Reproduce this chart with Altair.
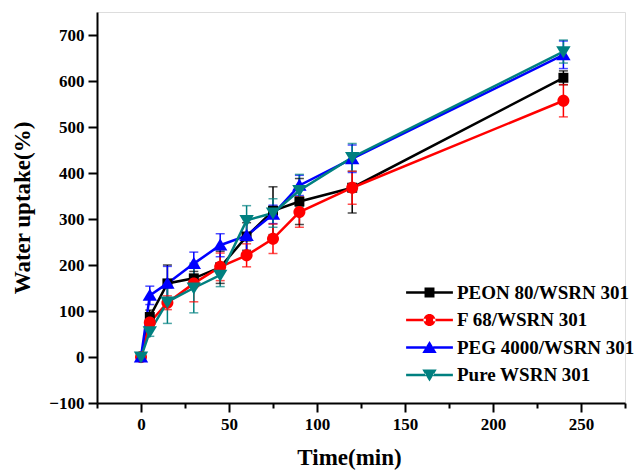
import altair as alt
import pandas as pd

# ---- data ----
time_min = [0, 5, 15, 30, 45, 60, 75, 90, 120, 240]
series_names = ["PEON 80/WSRN 301", "F 68/WSRN 301", "PEG 4000/WSRN 301", "Pure WSRN 301"]
peon = [0, 87, 160, 171, 195, 262, 318, 338, 368, 607]
f68 = [0, 75, 118, 160, 196, 221, 257, 315, 368, 557]
peg = [0, 134, 160, 203, 243, 264, 310, 373, 431, 657]
pure = [0, 55, 120, 150, 178, 297, 313, 362, 434, 664]
peon_err = [0, 15, 40, 15, 35, 30, 52, 50, 55, 15]
f68_err = [0, 10, 15, 40, 30, 25, 32, 33, 36, 35]
peg_err = [0, 20, 37, 25, 25, 40, 20, 22, 30, 30]
pure_err = [0, 10, 47, 54, 25, 32, 31, 35, 30, 25]

colors = ["#000000", "#FF0000", "#0000FF", "#008080"]

# marker shapes (unit box)
sq = "M-0.83,-0.83H0.83V0.83H-0.83Z"
ci = "M-1,0A1,1 0 1,0 1,0A1,1 0 1,0 -1,0Z"
tu = "M0,-1.1L1.2,0.9H-1.2Z"
td = "M0,1.1L1.2,-0.9H-1.2Z"
marker_paths = [sq, ci, tu, td]
seg = "M-3.9,-0.21H-0.6V0.21H-3.9Z M0.6,-0.21H3.9V0.21H0.6Z "
legend_paths = [seg + p for p in marker_paths]

rows = []
for name, vals, errs in zip(series_names, [peon, f68, peg, pure], [peon_err, f68_err, peg_err, pure_err]):
    for t, v, e in zip(time_min, vals, errs):
        rows.append({"t": t, "v": v, "lo": v - e, "hi": v + e, "s": name})
df = pd.DataFrame(rows)

FONT = "Liberation Serif"

x_scale = alt.Scale(domain=[-25, 275], nice=False, zero=False)
y_scale = alt.Scale(domain=[-100, 750], nice=False, zero=False)

x_axis = alt.Axis(
    title="Time(min)",
    values=list(range(-25, 276, 25)),
    labelExpr="(datum.value % 50 === 0 && datum.value >= 0) ? datum.label : ''",
    tickSize={"condition": {"test": "datum.value % 50 === 0", "value": 9}, "value": 5},
    tickWidth=2, tickColor="black", domainWidth=2, domainColor="black",
    labelFont=FONT, labelFontWeight="bold", labelFontSize=17, labelColor="black",
    labelPadding=4, labelFlush=False, labelOverlap=False,
    titleFont=FONT, titleFontWeight="bold", titleFontSize=23, titleColor="black",
    titlePadding=14, titleX=252, titleAlign="center", grid=False,
)
y_axis = alt.Axis(
    title="Water uptake(%)",
    values=list(range(-100, 751, 50)),
    labelExpr="(datum.value % 100 === 0 && datum.value <= 700) ? datum.label : ''",
    tickSize={"condition": {"test": "datum.value % 100 === 0", "value": 9}, "value": 5},
    tickWidth=2, tickColor="black", domainWidth=2, domainColor="black",
    labelFont=FONT, labelFontWeight="bold", labelFontSize=17, labelColor="black",
    labelPadding=4, labelFlush=False, labelOverlap=False,
    titleFont=FONT, titleFontWeight="bold", titleFontSize=23, titleColor="black",
    titlePadding=14, grid=False,
)

color_scale = alt.Scale(domain=series_names, range=colors)

base = alt.Chart(df)

err_rule = base.mark_rule(strokeWidth=1.5).encode(
    x=alt.X("t:Q", scale=x_scale, axis=x_axis),
    y=alt.Y("lo:Q", scale=y_scale, axis=y_axis),
    y2="hi:Q",
    color=alt.Color("s:N", scale=color_scale, legend=None),
)
err_lo = base.mark_tick(orient="horizontal", size=9, thickness=1.5).encode(
    x="t:Q", y="lo:Q", color=alt.Color("s:N", scale=color_scale, legend=None)
)
err_hi = base.mark_tick(orient="horizontal", size=9, thickness=1.5).encode(
    x="t:Q", y="hi:Q", color=alt.Color("s:N", scale=color_scale, legend=None)
)
lines = base.mark_line(strokeWidth=2.5).encode(
    x="t:Q", y="v:Q",
    color=alt.Color("s:N", scale=color_scale, legend=None),
    detail="s:N",
)
points = base.mark_point(filled=True, size=144, opacity=1, strokeWidth=0).encode(
    x="t:Q", y="v:Q",
    color=alt.Color("s:N", scale=color_scale, legend=None),
    shape=alt.Shape("s:N", scale=alt.Scale(domain=series_names, range=marker_paths), legend=None),
)

leg = alt.Legend(
    title=None, orient="none", legendX=323, legendY=271, padding=0,
    symbolSize=144, symbolStrokeWidth=0, symbolOpacity=1,
    labelOffset=18, rowPadding=7.5,
    labelFont=FONT, labelFontWeight="bold", labelFontSize=19, labelColor="black",
    labelLimit=400,
)
legend_layer = base.mark_point(filled=True, size=144, opacity=0).encode(
    x="t:Q", y="v:Q",
    color=alt.Color("s:N", scale=color_scale, legend=leg),
    shape=alt.Shape("s:N", scale=alt.Scale(domain=series_names, range=legend_paths), legend=leg),
)

chart = alt.layer(err_rule, err_lo, err_hi, lines, points, legend_layer).resolve_scale(
    color="independent", shape="independent"
).properties(
    width=528, height=391,
    autosize=alt.AutoSizeParams(type="none"),
    padding={"left": 89, "top": 4, "right": 11, "bottom": 70},
).configure_view(stroke="transparent").configure(background="white")

chart.save("out.html", embed_options={"renderer": "svg", "actions": False})
